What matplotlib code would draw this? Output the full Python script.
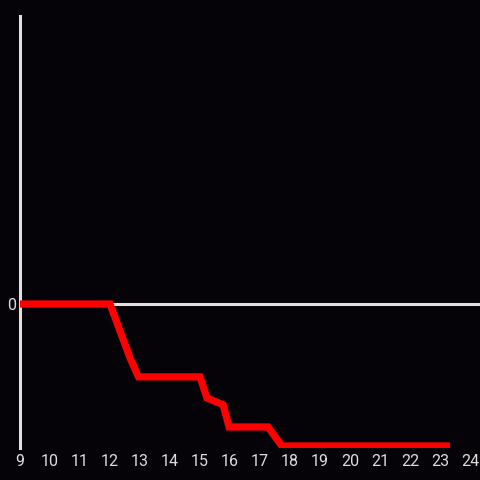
import matplotlib
matplotlib.use("Agg")
import matplotlib.pyplot as plt

# data (hour of day, value)
hours = [9.0, 12.0, 12.67, 12.95, 15.0, 15.23, 15.77, 15.97, 17.27, 17.73, 23.33]
values = [0.0, 0.0, -1.88, -2.53, -2.53, -3.26, -3.5, -4.27, -4.27, -4.93, -4.93]
xticks = list(range(9, 25))
yticks = [0]

bg = "#050308"
axis_col = "#e0e0e0"
text_col = "#dddddd"

plt.rcParams["font.family"] = ["Roboto", "DejaVu Sans"]

fig = plt.figure(figsize=(4.8, 4.8), dpi=100, facecolor=bg)
ax = fig.add_axes([20/480, 32/480, 460/480, 432/480], facecolor=bg)
ax.set_xlim(9, 24 + 10/30)
ax.set_ylim(-5, 10)

ax.axhline(0, color=axis_col, lw=2.2, zorder=1)
ax.plot(hours, values, color="#ff0000", lw=5.2, solid_joinstyle="miter",
        solid_capstyle="butt", zorder=3)

for s in ["top", "right", "bottom"]:
    ax.spines[s].set_visible(False)
ax.spines["left"].set_color(axis_col)
ax.spines["left"].set_linewidth(2.2)

ax.set_xticks(xticks)
ax.set_xticklabels([str(t) for t in xticks])
ax.set_yticks(yticks)
ax.set_yticklabels([str(t) for t in yticks])
ax.tick_params(axis="both", length=0, colors=text_col, labelsize=11.5)
ax.tick_params(axis="x", pad=4.5)
ax.tick_params(axis="y", pad=3)

fig.savefig("out.png", dpi=100, facecolor=bg)
